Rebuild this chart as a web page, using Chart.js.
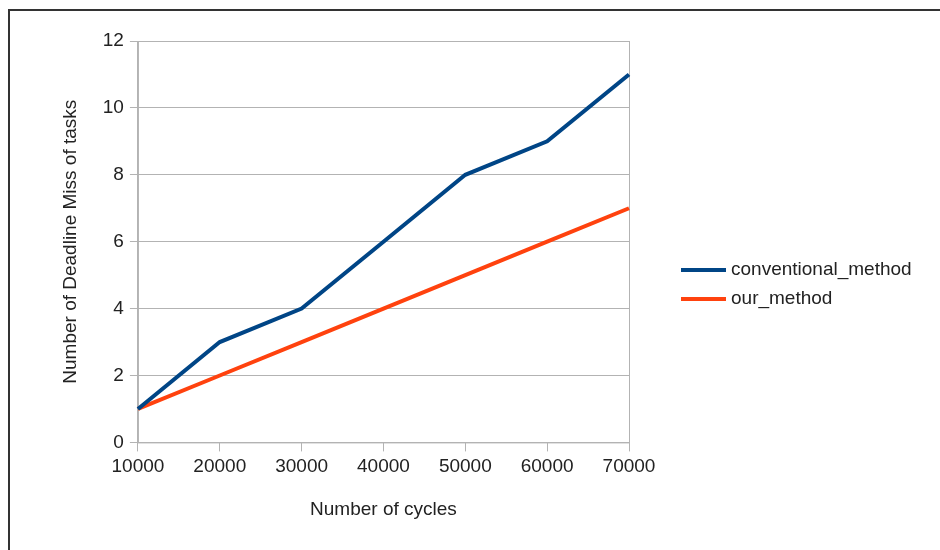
<!DOCTYPE html>
<html>
<head>
<meta charset="utf-8">
<script src="https://cdn.jsdelivr.net/npm/chart.js@4.4.0/dist/chart.umd.min.js"></script>
<style>
  html, body { margin: 0; padding: 0; background: #fff; }
  #wrap { position: relative; width: 940px; height: 550px; }
  #frame { position: absolute; left: 8px; top: 9px; right: 0; bottom: 0;
           border-left: 2px solid #333; border-top: 2px solid #333; pointer-events: none; }
</style>
</head>
<body>
<div id="wrap">
  <canvas id="chart" width="940" height="550"></canvas>
  <div id="frame"></div>
</div>
<script>
// datos del grafico
const cycles = ['10000', '20000', '30000', '40000', '50000', '60000', '70000'];
const conventionalMethod = [1, 3, 4, 6, 8, 9, 11];
const ourMethod = [1, 2, 3, 4, 5, 6, 7];
const yTicks = [0, 2, 4, 6, 8, 10, 12];

const FONT = "'Liberation Sans', Arial, sans-serif";
const FSIZE = 19;

// leyenda dibujada a mano a la derecha
const sideLegend = {
    id: 'sideLegend',
    afterDraw(chart) {
        const ctx = chart.ctx;
        ctx.save();
        ctx.font = FSIZE + 'px ' + FONT;
        ctx.textBaseline = 'middle';
        chart.data.datasets.forEach((ds, i) => {
            const y = 270 + i * 29;
            ctx.strokeStyle = ds.borderColor;
            ctx.lineWidth = 4;
            ctx.beginPath();
            ctx.moveTo(681, y);
            ctx.lineTo(726, y);
            ctx.stroke();
            ctx.fillStyle = '#222';
            ctx.fillText(ds.label, 731, y);
        });
        ctx.restore();
    }
};

// borde del area del grafico
const areaBorder = {
    id: 'areaBorder',
    beforeDatasetsDraw(chart) {
        const a = chart.chartArea;
        const ctx = chart.ctx;
        ctx.save();
        ctx.strokeStyle = '#b3b3b3';
        ctx.lineWidth = 1;
        ctx.strokeRect(a.left + 0.5, a.top + 0.5, a.right - a.left, a.bottom - a.top);
        ctx.restore();
    }
};

new Chart(document.getElementById('chart'), {
    type: 'line',
    data: {
        labels: cycles,
        datasets: [
            {
                label: 'conventional_method',
                data: conventionalMethod,
                borderColor: '#004586',
                backgroundColor: '#004586',
                borderWidth: 4,
                pointRadius: 0,
                tension: 0
            },
            {
                label: 'our_method',
                data: ourMethod,
                borderColor: '#ff420e',
                backgroundColor: '#ff420e',
                borderWidth: 4,
                pointRadius: 0,
                tension: 0
            }
        ]
    },
    options: {
        responsive: false,
        animation: false,
        layout: { padding: { left: 55, right: 311, top: 41, bottom: 25 } },
        plugins: {
            legend: { display: false },
            tooltip: { enabled: false }
        },
        scales: {
            x: {
                offset: false,
                grid: { display: true, drawOnChartArea: false, color: '#b3b3b3', tickLength: 9 },
                border: { color: '#b3b3b3' },
                ticks: { color: '#222', font: { family: FONT, size: FSIZE }, padding: 4, maxRotation: 0 },
                title: { display: true, text: 'Number of cycles', color: '#222',
                         font: { family: FONT, size: FSIZE }, padding: { top: 16 } }
            },
            y: {
                min: 0,
                max: 12,
                afterBuildTicks(scale) {
                    scale.ticks = yTicks.map(v => ({ value: v }));
                },
                grid: { color: '#b3b3b3', tickLength: 8 },
                border: { color: '#b3b3b3' },
                ticks: { color: '#222', font: { family: FONT, size: FSIZE }, padding: 6 },
                title: { display: true, text: 'Number of Deadline Miss of tasks', color: '#222',
                         font: { family: FONT, size: FSIZE }, padding: { bottom: 15 } }
            }
        }
    },
    plugins: [areaBorder, sideLegend]
});
</script>
</body>
</html>
